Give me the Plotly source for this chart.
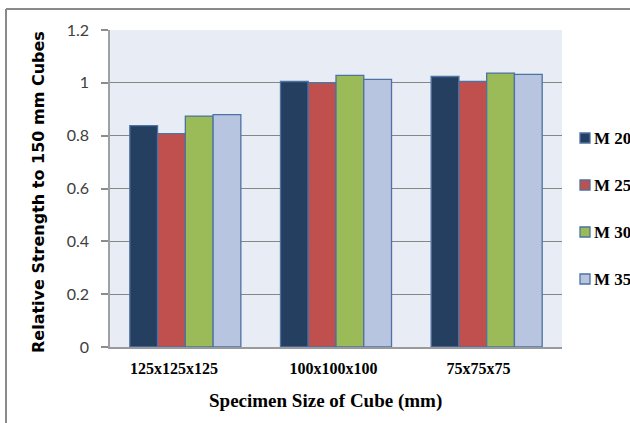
import plotly.graph_objects as go

# Cube sizes on the x axis and relative strength of each concrete grade
sizes = ["125x125x125", "100x100x100", "75x75x75"]
grades = ["M 20", "M 25", "M 30", "M 35"]
m20 = [0.838, 1.005, 1.024]
m25 = [0.808, 1.000, 1.005]
m30 = [0.874, 1.028, 1.037]
m35 = [0.880, 1.013, 1.032]
y_ticks = [0, 0.2, 0.4, 0.6, 0.8, 1, 1.2]

series = [m20, m25, m30, m35]
colors = ["#243F60", "#C0504D", "#9BBB59", "#B7C5E0"]
edge = "#4E72A3"

positions = list(range(len(sizes)))
# labels sit slightly left of the centre of each group of bars
label_pos = [p + d for p, d in zip(positions, [-0.075, -0.017, -0.055])]

fig = go.Figure()
for name, vals, col in zip(grades, series, colors):
    fig.add_trace(go.Bar(
        x=positions, y=vals, name=name,
        marker=dict(color=col, line=dict(color=edge, width=1.3)),
    ))

W, H = 630, 423
L, R, T, B = 110, 68, 30, 76
pw, ph = W - L - R, H - T - B


def px_x(x):
    return (x - L) / pw


def px_y(y):
    return (H - B - y) / ph


serif_bold = dict(family="Liberation Serif", size=16, color="black", weight="bold")
legend_font = dict(family="Liberation Serif", size=17, color="black", weight="bold")

shapes = [
    # outer chart frame (top and left edges visible)
    dict(type="line", xref="paper", yref="paper",
         x0=px_x(6), x1=px_x(640), y0=px_y(9), y1=px_y(9),
         line=dict(color="#8A8A8A", width=2)),
    dict(type="line", xref="paper", yref="paper",
         x0=px_x(6), x1=px_x(6), y0=px_y(9), y1=px_y(430),
         line=dict(color="#8A8A8A", width=2)),
]
annotations = [
    dict(text="Specimen Size of Cube (mm)", xref="paper", yref="paper",
         x=px_x(325), y=px_y(401), xanchor="center", yanchor="middle",
         showarrow=False,
         font=dict(family="Liberation Serif", size=19, color="black", weight="bold")),
    dict(text="Relative Strength to 150 mm Cubes", xref="paper", yref="paper",
         x=px_x(39), y=px_y(192), xanchor="center", yanchor="middle",
         textangle=-90, showarrow=False,
         font=dict(family="DejaVu Sans", size=16, color="black", weight="bold")),
]

# legend: coloured squares with the grade names beside them
leg_top, leg_step = 138, 47
for i, (name, col) in enumerate(zip(grades, colors)):
    cy = leg_top + i * leg_step
    shapes.append(dict(type="rect", xref="paper", yref="paper",
                       x0=px_x(580), x1=px_x(590), y0=px_y(cy - 5), y1=px_y(cy + 5),
                       fillcolor=col, line=dict(color=edge, width=1.3)))
    annotations.append(dict(text=name, xref="paper", yref="paper",
                            x=px_x(592), y=px_y(cy), xanchor="left", yanchor="middle",
                            showarrow=False, font=legend_font))

fig.update_layout(
    width=W, height=H,
    margin=dict(l=L, r=R, t=T, b=B, autoexpand=False),
    paper_bgcolor="white",
    plot_bgcolor="#E8ECF4",
    barmode="group", bargap=0.263, bargroupgap=0,
    showlegend=False,
    xaxis=dict(
        range=[-0.5, len(sizes) - 0.5],
        tickmode="array", tickvals=label_pos, ticktext=sizes,
        tickfont=serif_bold, ticklabelstandoff=6,
        ticks="", showgrid=False, zeroline=False,
        showline=True, linecolor="#9A9A9A", linewidth=1.5,
    ),
    yaxis=dict(
        range=[0, 1.2], tickvals=y_ticks,
        ticktext=[("%g" % v) for v in y_ticks],
        tickfont=dict(family="Lato", size=16, color="#404040"),
        ticklabelstandoff=9,
        ticks="outside", ticklen=7, tickcolor="#8C8C8C", tickwidth=1.5,
        showgrid=True, gridcolor="#868686", gridwidth=1.4,
        zeroline=False,
        showline=True, linecolor="#A0A0A0", linewidth=1.5,
    ),
    shapes=shapes,
    annotations=annotations,
)

fig.write_html("out.html")
